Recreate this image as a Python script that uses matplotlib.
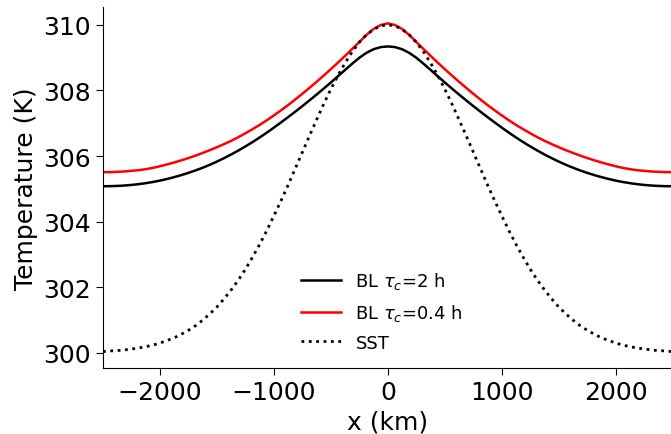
import numpy as np
import matplotlib
matplotlib.use('Agg')
import matplotlib.pyplot as plt

# x positions (km), left half; the profiles are symmetric about x=0
x_half = [-2500, -2437.5, -2375, -2312.5, -2250, -2187.5, -2125, -2062.5,
          -2000, -1937.5, -1875, -1812.5, -1750, -1687.5, -1625, -1562.5,
          -1500, -1437.5, -1375, -1312.5, -1250, -1187.5, -1125, -1062.5,
          -1000, -937.5, -875, -812.5, -750, -687.5, -625, -562.5,
          -500, -437.5, -375, -312.5, -250, -187.5, -125, -62.5, 0]

bl_2h_half = [305.080, 305.083, 305.090, 305.102, 305.120, 305.144, 305.174, 305.210,
              305.252, 305.302, 305.358, 305.420, 305.488, 305.563, 305.645, 305.735,
              305.832, 305.937, 306.049, 306.168, 306.294, 306.427, 306.567, 306.714,
              306.868, 307.026, 307.188, 307.354, 307.524, 307.698, 307.876, 308.058,
              308.244, 308.434, 308.627, 308.817, 308.997, 309.147, 309.257, 309.322, 309.342]

bl_04h_half = [305.510, 305.510, 305.520, 305.530, 305.550, 305.570, 305.600, 305.640,
               305.690, 305.745, 305.805, 305.870, 305.940, 306.015, 306.095, 306.180,
               306.270, 306.365, 306.465, 306.575, 306.695, 306.820, 306.950, 307.090,
               307.240, 307.395, 307.555, 307.725, 307.900, 308.080, 308.265, 308.455,
               308.650, 308.850, 309.055, 309.265, 309.475, 309.695, 309.875, 309.995, 310.045]

sst_half = [300.04, 300.06, 300.07, 300.09, 300.12, 300.15, 300.19, 300.24,
            300.30, 300.38, 300.46, 300.57, 300.69, 300.83, 301.00, 301.19,
            301.40, 301.65, 301.92, 302.22, 302.55, 302.92, 303.31, 303.73,
            304.18, 304.64, 305.12, 305.62, 306.12, 306.62, 307.11, 307.59,
            308.04, 308.46, 308.84, 309.18, 309.47, 309.70, 309.86, 309.97, 310.00]

labels = [r'BL $\tau_c$=2 h', r'BL $\tau_c$=0.4 h', 'SST']


def mirror(vals, sign=1):
    # left half + mirrored right half (skip the centre point once)
    return list(vals) + [sign * v for v in vals[-2::-1]]


x = np.array(mirror(x_half, sign=-1))
bl_2h = np.array(mirror(bl_2h_half))
bl_04h = np.array(mirror(bl_04h_half))
sst = np.array(mirror(sst_half))

fig = plt.figure(figsize=(6.71, 4.35), dpi=100)
ax = fig.add_axes([0.1535, 0.1517, 0.849, 0.830])

ax.plot(x, bl_2h, color='k', lw=1.8, label=labels[0])
ax.plot(x, bl_04h, color='r', lw=1.8, label=labels[1])
ax.plot(x, sst, color='k', lw=2, linestyle=':', label=labels[2])

ax.set_xlim(-2500, 2500)
ax.set_xticks([-2000, -1000, 0, 1000, 2000])
ax.set_yticks([300, 302, 304, 306, 308, 310])
ax.set_xlabel('x (km)', fontsize=18)
ax.set_ylabel('Temperature (K)', fontsize=18)
ax.tick_params(labelsize=18, length=5)

ax.spines['top'].set_visible(False)
ax.spines['right'].set_visible(False)

ax.legend(loc='lower center', frameon=False, fontsize=13, handlelength=2.2,
          labelspacing=0.6, bbox_to_anchor=(0.49, 0.0))

plt.savefig('out.png', dpi=100)
